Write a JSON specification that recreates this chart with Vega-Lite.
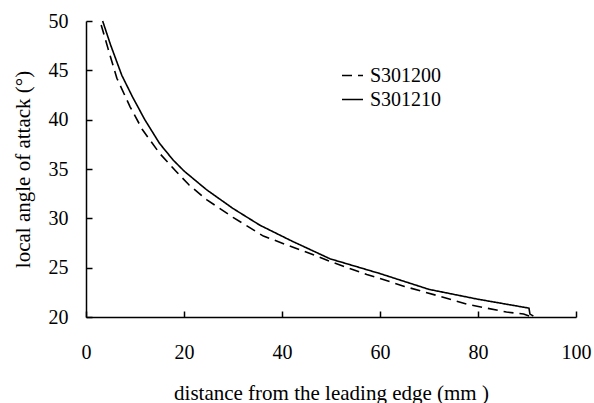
{
  "$schema": "https://vega.github.io/schema/vega-lite/v6.json",
  "width": 490,
  "height": 296,
  "autosize": {"type": "none"},
  "padding": {"left": 86, "top": 21, "right": 18, "bottom": 86},
  "background": "white",
  "config": {
    "view": {"stroke": null},
    "font": "Liberation Serif",
    "text": {"font": "Liberation Serif"},
    "axis": {
      "grid": false,
      "domainColor": "black",
      "domainWidth": 1.5,
      "tickColor": "black",
      "tickWidth": 1.5,
      "tickSize": -6,
      "labelColor": "black",
      "titleColor": "black",
      "labelFont": "Liberation Serif",
      "titleFont": "Liberation Serif",
      "labelFontSize": 20,
      "titleFontSize": 21,
      "titleFontWeight": "normal",
      "labelFlush": false
    },
    "legend": {
      "labelFont": "Liberation Serif"
    }
  },
  "data": {
    "values": [
      {"x": 3.4, "y": 50.0, "s": "S301210"},
      {"x": 5.0, "y": 47.6, "s": "S301210"},
      {"x": 7.3, "y": 44.5, "s": "S301210"},
      {"x": 9.5, "y": 42.3, "s": "S301210"},
      {"x": 12.0, "y": 40.0, "s": "S301210"},
      {"x": 15.0, "y": 37.6, "s": "S301210"},
      {"x": 17.8, "y": 35.9, "s": "S301210"},
      {"x": 20.0, "y": 34.8, "s": "S301210"},
      {"x": 24.6, "y": 32.9, "s": "S301210"},
      {"x": 30.0, "y": 31.0, "s": "S301210"},
      {"x": 35.5, "y": 29.3, "s": "S301210"},
      {"x": 42.0, "y": 27.7, "s": "S301210"},
      {"x": 49.8, "y": 25.9, "s": "S301210"},
      {"x": 60.0, "y": 24.4, "s": "S301210"},
      {"x": 70.0, "y": 22.8, "s": "S301210"},
      {"x": 80.0, "y": 21.8, "s": "S301210"},
      {"x": 90.4, "y": 20.9, "s": "S301210"},
      {"x": 90.6, "y": 20.3, "s": "S301210"},
      {"x": 91.3, "y": 20.1, "s": "S301210"},
      {"x": 3.1, "y": 49.6, "s": "S301200"},
      {"x": 4.5, "y": 47.2, "s": "S301200"},
      {"x": 6.3, "y": 44.2, "s": "S301200"},
      {"x": 9.0, "y": 41.3, "s": "S301200"},
      {"x": 11.5, "y": 39.0, "s": "S301200"},
      {"x": 13.1, "y": 37.9, "s": "S301200"},
      {"x": 15.0, "y": 36.6, "s": "S301200"},
      {"x": 18.5, "y": 34.7, "s": "S301200"},
      {"x": 21.0, "y": 33.4, "s": "S301200"},
      {"x": 24.6, "y": 31.9, "s": "S301200"},
      {"x": 30.0, "y": 30.1, "s": "S301200"},
      {"x": 36.2, "y": 28.2, "s": "S301200"},
      {"x": 46.4, "y": 26.3, "s": "S301200"},
      {"x": 50.0, "y": 25.6, "s": "S301200"},
      {"x": 57.3, "y": 24.3, "s": "S301200"},
      {"x": 60.0, "y": 23.9, "s": "S301200"},
      {"x": 65.0, "y": 23.1, "s": "S301200"},
      {"x": 72.2, "y": 22.1, "s": "S301200"},
      {"x": 77.7, "y": 21.3, "s": "S301200"},
      {"x": 85.8, "y": 20.5, "s": "S301200"},
      {"x": 89.3, "y": 20.3, "s": "S301200"},
      {"x": 90.5, "y": 20.1, "s": "S301200"}
    ]
  },
  "mark": {"type": "line", "color": "black", "strokeWidth": 1.6},
  "encoding": {
    "x": {
      "field": "x",
      "type": "quantitative",
      "scale": {"domain": [0, 100], "nice": false},
      "axis": {
        "values": [0, 20, 40, 60, 80, 100],
        "title": "distance from the leading edge (mm )",
        "labelPadding": 31,
        "titlePadding": 20
      }
    },
    "y": {
      "field": "y",
      "type": "quantitative",
      "scale": {"domain": [20, 50], "nice": false, "zero": false},
      "axis": {
        "values": [20, 25, 30, 35, 40, 45, 50],
        "title": "local angle of attack (°)",
        "labelPadding": 24,
        "titlePadding": 15
      }
    },
    "strokeDash": {
      "field": "s",
      "type": "nominal",
      "scale": {"domain": ["S301200", "S301210"], "range": [[10, 6], [1, 0]]},
      "legend": {
        "title": null,
        "orient": "none",
        "legendX": 255,
        "legendY": 43,
        "padding": 0,
        "symbolType": "stroke",
        "symbolSize": 441,
        "symbolStrokeWidth": 1.6,
        "symbolStrokeColor": "black",
        "symbolDash": [8, 4],
        "labelFontSize": 20,
        "labelFont": "Liberation Serif",
        "labelColor": "black",
        "labelOffset": 6,
        "rowPadding": 2
      }
    },
    "order": {"field": "x", "type": "quantitative"}
  }
}
